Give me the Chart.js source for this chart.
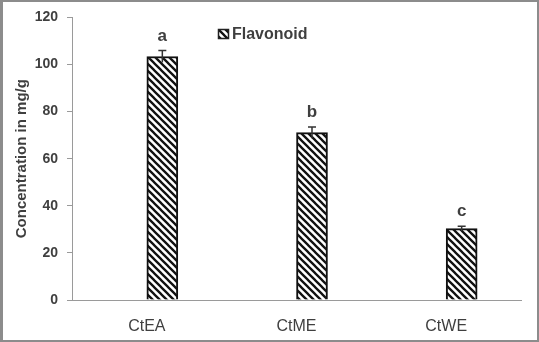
<!DOCTYPE html>
<html>
<head>
<meta charset="utf-8">
<script src="https://cdn.jsdelivr.net/npm/chart.js@4.4.1/dist/chart.umd.min.js"></script>
<style>
  html, body { margin: 0; padding: 0; background: #fff; }
  #wrap { position: relative; width: 539px; height: 342px; }
  #frame { position: absolute; left: 0; top: 0; width: 539px; height: 342px; box-sizing: border-box;
           border-style: solid; border-color: #8c8c8c; border-width: 2px 2px 2px 3px; pointer-events: none; }
</style>
</head>
<body>
<div id="wrap">
  <canvas id="chart" width="539" height="342"></canvas>
  <div id="frame"></div>
</div>
<script>
const categories = ['CtEA', 'CtME', 'CtWE'];
const flavonoid = [103.4, 71.1, 30.3];
const flavonoidErr = [2.5, 2.4, 1.0];
const letters = ['a', 'b', 'c'];
const seriesName = 'Flavonoid';
const yMin = 0, yMax = 120, yStep = 20;

const textColor = '#3f3f3f';
const axisColor = '#9a9a9a';

const canvas = document.getElementById('chart');
const ctx = canvas.getContext('2d');

function makeHatch() {
    const s = 7;
    const c = document.createElement('canvas');
    c.width = s; c.height = s;
    const g = c.getContext('2d');
    g.fillStyle = '#fff';
    g.fillRect(0, 0, s, s);
    g.strokeStyle = '#111';
    g.lineWidth = 2.3;
    g.beginPath();
    for (const k of [-s, 0, s]) {
        g.moveTo(k - 1, -1);
        g.lineTo(k + s + 1, s + 1);
    }
    g.stroke();
    return ctx.createPattern(c, 'repeat');
}
const hatch = makeHatch();

// error bars, significance letters and the little legend in the plot
const extras = {
    id: 'extras',
    afterDatasetsDraw(chart) {
        const c = chart.ctx;
        const meta = chart.getDatasetMeta(1);
        const y = chart.scales.y;
        c.save();
        meta.data.forEach((bar, i) => {
            const top = y.getPixelForValue(flavonoid[i] + flavonoidErr[i]);
            const bot = y.getPixelForValue(flavonoid[i] - flavonoidErr[i]);
            c.strokeStyle = '#333';
            c.lineWidth = 1.5;
            c.beginPath();
            c.moveTo(bar.x, bot);
            c.lineTo(bar.x, top);
            c.moveTo(bar.x - 4, top);
            c.lineTo(bar.x + 4, top);
            c.stroke();

            c.fillStyle = textColor;
            c.font = 'bold 17px "Liberation Sans", Arial, sans-serif';
            c.textAlign = 'center';
            c.textBaseline = 'alphabetic';
            c.fillText(letters[i], bar.x, top - 10);
        });

        // legend
        c.fillStyle = hatch;
        c.fillRect(218.5, 29.5, 10, 9);
        c.strokeStyle = '#222';
        c.lineWidth = 1.5;
        c.strokeRect(218.5, 29.5, 10, 9);
        c.fillStyle = textColor;
        c.font = 'bold 16px "Liberation Sans", Arial, sans-serif';
        c.textAlign = 'left';
        c.textBaseline = 'middle';
        c.fillText(seriesName, 232, 34.5);
        c.restore();
    }
};

new Chart(ctx, {
    type: 'bar',
    data: {
        labels: categories,
        datasets: [
            { label: '', data: categories.map(() => null), backgroundColor: 'transparent' },
            {
                label: seriesName,
                data: flavonoid,
                backgroundColor: hatch,
                borderColor: '#111',
                borderWidth: 2,
                borderSkipped: 'bottom'
            }
        ]
    },
    options: {
        responsive: false,
        animation: false,
        barThickness: 31,
        layout: { padding: { left: 0, right: 18, top: 16, bottom: 0 } },
        plugins: { legend: { display: false }, tooltip: { enabled: false } },
        scales: {
            x: {
                offset: true,
                grid: { display: false },
                border: { display: true, color: axisColor, width: 1 },
                ticks: {
                    color: textColor,
                    padding: 9,
                    font: { family: '"Liberation Sans", Arial, sans-serif', size: 16 }
                },
                afterFit(scale) { scale.height = 42; }
            },
            y: {
                min: yMin,
                max: yMax,
                grid: { display: true, drawOnChartArea: false, drawTicks: true, tickLength: 5, color: axisColor },
                border: { display: true, color: axisColor, width: 1 },
                ticks: {
                    stepSize: yStep,
                    color: textColor,
                    padding: 9,
                    font: { family: '"Liberation Sans", Arial, sans-serif', size: 14, weight: 'bold' }
                },
                title: {
                    display: true,
                    text: 'Concentration in mg/g',
                    color: textColor,
                    padding: { top: 13, bottom: 0 },
                    font: { family: '"Liberation Sans", Arial, sans-serif', size: 15, weight: 'bold' }
                },
                afterFit(scale) { scale.width = 72; }
            }
        }
    },
    plugins: [extras]
});
</script>
</body>
</html>
